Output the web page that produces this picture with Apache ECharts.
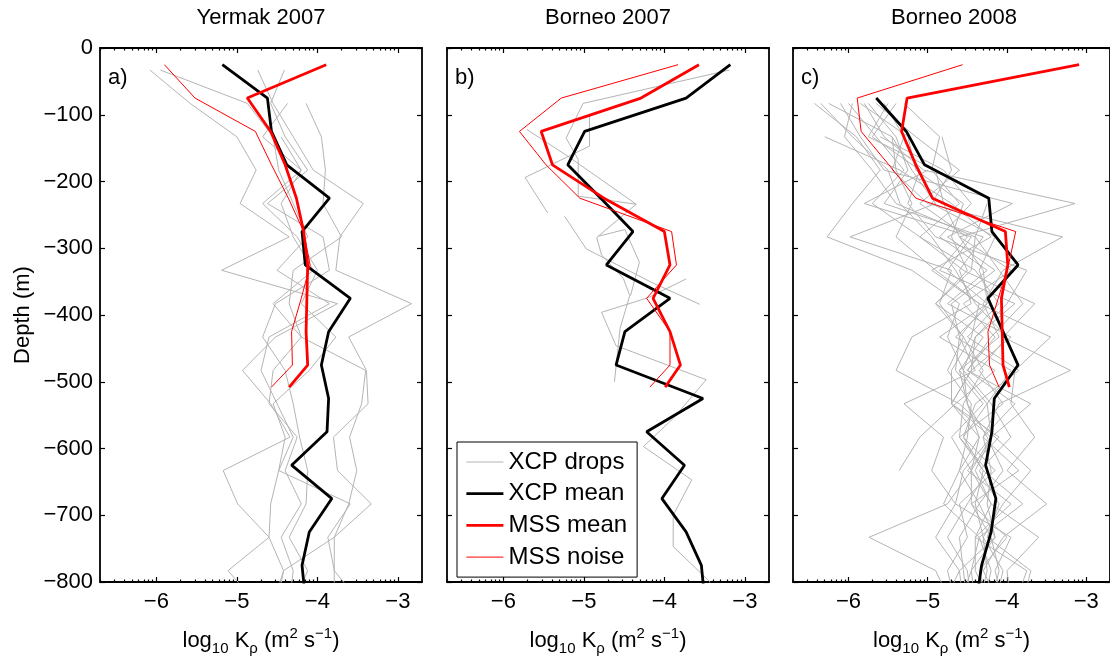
<!DOCTYPE html>
<html>
<head>
<meta charset="utf-8">
<script src="https://cdn.jsdelivr.net/npm/echarts@6/dist/echarts.min.js"></script>
<style>
  html, body { margin: 0; padding: 0; background: #fff; }
  #chart { width: 1110px; height: 661px; }
</style>
</head>
<body>
<div id="chart"></div>
<script>
// ---------------- data ----------------
const panelTitles = ['Yermak 2007', 'Borneo 2007', 'Borneo 2008'];
const panelTags = ['a)', 'b)', 'c)'];
const xTickValues = [-6, -5, -4, -3];
const yTickValues = [0, -100, -200, -300, -400, -500, -600, -700, -800];
const legendNames = ['XCP drops', 'XCP mean', 'MSS mean', 'MSS noise'];

// depth bins (m)
const meanDepths = [-25, -75, -125, -175, -225, -275, -325, -375, -425, -475, -525, -575, -625, -675, -725, -775, -825];
const mssDepths = [-25, -75, -125, -175, -225, -275, -325, -375, -425, -475, -508];
const dropDepths = [-33, -83, -133, -183, -233, -283, -333, -383, -433, -483, -533, -583, -633, -683, -733, -783, -833];

// Yermak 2007
const xcpMeanA = [-5.18, -4.62, -4.57, -4.38, -3.85, -4.19, -4.15, -3.59, -3.86, -3.95, -3.86, -3.88, -4.32, -3.82, -4.10, -4.19, -4.15];
const mssMeanA = [-3.89, -4.87, -4.58, -4.40, -4.26, -4.17, -4.12, -4.13, -4.14, -4.12, -4.35];
const mssNoiseA = [-5.90, -5.52, -4.77, -4.57, -4.36, -4.17, -4.09, -4.20, -4.32, -4.31, -4.57];
const xcpDropsA = [
  [-6.08, -5.58, -5.00, -4.76, -4.96, -4.35, -5.19, -3.75, -4.52, -4.93, -4.58, -4.34, -5.17, -4.99, -4.60, -5.11, -4.75],
  [-5.95, -4.87, -4.55, -4.48, -4.30, -4.12, -4.50, -3.85, -4.60, -4.70, -4.50, -4.30, -4.48, -4.58, -4.60, -4.42, -4.55],
  [-4.74, -4.55, -4.30, -4.05, -3.43, -3.72, -3.77, -2.83, -3.61, -3.39, -3.37, -3.80, -3.75, -3.33, -3.79, -3.79, -3.79],
  [-4.41, -4.58, -4.40, -4.12, -4.62, -3.93, -3.85, -4.52, -4.68, -4.40, -4.30, -4.22, -4.12, -4.14, -4.35, -4.12, -4.30],
  [null, -4.37, -4.68, -4.20, -4.68, -4.25, -4.00, -4.20, -3.77, -4.10, -4.55, -4.40, -4.48, -3.59, -3.87, -3.79, -3.45],
  [null, -4.14, -3.95, -3.90, -3.93, -3.70, -4.30, -4.35, -4.20, -3.40, -3.45, -3.60, -3.51, -3.61, -3.79, -4.42, -4.50],
  [null, null, -4.45, -4.20, -4.45, -4.30, -4.05, -4.55, -4.20, -4.55, -4.60, -4.25, -4.40, -4.20, -4.45, -4.30, -4.35]
];

// Borneo 2007
const xcpMeanB = [-3.18, -3.73, -4.99, -5.20, -4.79, -4.39, -4.72, -3.93, -4.49, -4.60, -3.52, -4.22, -3.75, -4.03, -3.73, -3.54, -3.50];
const mssMeanB = [-3.57, -4.29, -5.53, -5.39, -4.75, -4.00, -3.93, -4.14, -3.93, -3.80, -3.99];
const mssNoiseB = [-3.83, -5.28, -5.80, -5.47, -5.05, -3.91, -3.85, -4.22, -3.93, -3.93, -4.18];
// [log10 K, depth] pairs for each drop
const xcpDropsB = [
  [[-3.19, -33], [-5.01, -83], [-5.22, -135], [-5.07, -167], [-5.07, -222], [-4.35, -234], [-4.84, -284], [-4.78, -310], [-4.51, -345], [-4.43, -371], [-4.55, -420], [-4.62, -500]],
  [[-4.93, -100], [-4.93, -147], [-5.73, -194], [-5.45, -247]],
  [[-5.71, -122], [-5.20, -162], [-4.35, -234]],
  [[-5.24, -252], [-4.97, -301], [-4.16, -351], [-3.56, -384]],
  [[-4.82, -282], [-4.49, -272], [-4.31, -321], [-4.42, -371]],
  [[-3.73, -346], [-4.20, -374], [-4.78, -396], [-4.60, -446], [-3.48, -497], [-3.89, -555], [-4.26, -597], [-3.66, -647], [-3.89, -700], [-3.89, -747], [-3.44, -799], [-3.35, -830]]
];

// Borneo 2008
const xcpMeanC = [null, -5.65, -5.27, -5.04, -4.23, -4.19, -3.86, -4.24, -4.05, -3.86, -4.16, -4.19, -4.27, -4.14, -4.20, -4.32, -4.38];
const mssMeanC = [-3.09, -5.26, -5.33, -5.15, -4.94, -4.02, -3.99, -4.07, -4.06, -4.05, -3.97];
const mssNoiseC = [-4.56, -5.89, -5.84, -5.49, -5.15, -3.89, -3.98, -4.11, -4.24, -4.22, -4.10];
const xcpDropsC = [
  [null, -6.43, -5.90, -5.60, -5.95, -6.27, -5.20, -4.60, -4.75, -4.55, -4.50, -4.35, -4.45, -4.75, -5.74, -4.90, -4.70],
  [null, -6.25, -5.45, -5.20, -4.90, -5.98, -4.70, -4.85, -4.55, -4.75, -4.45, -4.50, -4.60, -4.35, -4.60, -4.55, -4.50],
  [null, -5.95, -6.05, -5.70, -5.40, -4.40, -4.45, -4.90, -4.55, -4.30, -4.55, -4.60, -4.30, -4.40, -4.30, -4.25, -4.35],
  [null, -5.80, -5.55, -5.05, -3.14, -4.60, -4.30, -4.25, -4.60, -4.65, -4.30, -4.70, -4.45, -4.20, -4.40, -4.40, -4.20],
  [null, -5.55, -5.30, -5.45, -5.00, -3.30, -4.05, -4.30, -4.10, -4.60, -4.50, -4.25, -4.05, -4.35, -4.15, -4.45, -4.60],
  [null, -5.40, -5.70, -5.10, -5.25, -4.90, -3.75, -4.00, -4.40, -4.45, -4.70, -4.20, -4.55, -4.65, -3.95, -4.15, -4.05],
  [null, -5.30, -4.85, -4.95, -4.60, -5.10, -4.55, -3.65, -4.05, -3.20, -4.10, -4.30, -4.20, -4.25, -4.15, -4.60, -4.80],
  [null, null, -6.30, -5.35, -4.70, -4.20, -4.95, -4.35, -3.45, -3.90, -3.95, -3.65, -4.00, -3.50, -4.05, -4.30, -4.10],
  [null, -6.10, -5.85, -5.55, -3.93, -4.75, -4.15, -4.70, -4.60, -4.40, -5.30, -4.80, -4.95, -4.65, -4.90, -4.60, -4.55],
  [null, -5.65, -5.15, -4.60, -5.10, -4.50, -4.85, -3.90, -4.40, -4.55, -4.20, -3.95, -4.35, -4.10, -4.25, -3.70, -3.80],
  [null, -5.75, -5.40, -5.25, -5.55, -4.30, -4.60, -4.45, -5.20, -5.40, -4.60, -4.15, -3.70, -4.05, -4.30, -4.05, -4.15],
  [null, null, -5.60, -4.80, -4.45, -4.85, -4.25, -4.75, -3.95, -4.45, -4.70, -4.35, -4.60, -4.80, -4.35, -4.45, -4.40],
  [null, -6.00, -5.65, -5.30, -5.70, -5.10, -4.40, -4.10, -4.50, -3.85, -4.40, -4.55, -4.30, -3.80, -4.35, -4.20, -4.30],
  [null, -5.50, -5.75, -4.90, -4.80, -4.60, -3.95, -4.55, -4.15, -4.50, -3.70, -4.20, -4.45, -4.45, -4.00, -4.35, -4.25],
  [null, null, null, -5.00, -5.80, -4.45, -4.75, -4.25, -4.85, -4.15, -4.65, -5.10, -5.36, null, null, null, null],
  [null, -5.85, -5.25, -5.15, -4.55, -4.70, -4.50, -4.90, -4.30, -4.60, -4.25, -4.55, -4.15, -4.60, -4.50, -4.75, -4.65],
  [null, null, -4.82, -4.70, -4.95, -4.15, -4.35, -4.20, -4.65, -3.95, -4.25, -4.20, -4.40, -4.20, -3.60, -4.00, -3.95],
  [null, -6.35, -5.95, -5.50, -5.35, -4.95, -4.65, -4.40, -4.00, -4.35, -4.05, -4.60, -4.25, -4.50, -4.75, -4.50, -4.45],
  [null, null, null, null, -4.25, -4.40, -4.10, -3.80, -4.20, -4.50, -3.90, -4.30, -3.85, -4.45, -4.20, -4.10, -4.20],
  [null, null, -5.45, -5.40, -5.20, -5.40, -4.90, -4.35, -4.45, -4.70, -4.70, -4.10, -4.50, -3.95, -4.40, -3.75, -3.90]
];

// ---------------- layout & style ----------------
const FONT = 'Liberation Sans, Arial, Helvetica, sans-serif';
const GRID_LEFTS = [100, 447, 793];
const GRID_TOP = 48, GRID_W = 322, GRID_H = 536;
const X_MIN = -6.7, X_MAX = -2.7;
const GRAY = '#b4b4b4', RED = '#ff0000', BLACK = '#000000';
const THIN = 1, THICK = 2.8;

// log-style minor tick positions between the integer decades
const minorTicks = [];
for (let d = -7; d <= -3; d++) {
  for (let k = 2; k <= 9; k++) {
    const v = d + Math.log10(k);
    if (v > X_MIN && v < X_MAX) minorTicks.push(v);
  }
}

const minus = v => String(v).replace('-', '\u2212');

function profile(xs, depths) {
  const out = [];
  xs.forEach((x, i) => { if (x !== null) out.push([x, depths[i]]); });
  return out;
}

const axisLineStyle = { color: BLACK, width: 1.8 };
const tickLine = { color: BLACK, width: 1.2 };

const grids = [], xAxes = [], yAxes = [], series = [];

const panels = [
  { mean: xcpMeanA, mss: mssMeanA, noise: mssNoiseA, drops: xcpDropsA.map(d => profile(d, dropDepths)) },
  { mean: xcpMeanB, mss: mssMeanB, noise: mssNoiseB, drops: xcpDropsB },
  { mean: xcpMeanC, mss: mssMeanC, noise: mssNoiseC, drops: xcpDropsC.map(d => profile(d, dropDepths)) }
];

panels.forEach((p, i) => {
  grids.push({ left: GRID_LEFTS[i], top: GRID_TOP, width: GRID_W, height: GRID_H, containLabel: false });

  const xBase = { type: 'value', gridIndex: i, min: X_MIN, max: X_MAX, splitLine: { show: false } };
  // bottom: line, major ticks, labels, name
  xAxes.push(Object.assign({}, xBase, {
    position: 'bottom',
    axisLine: { show: true, onZero: false, lineStyle: axisLineStyle },
    axisTick: { show: true, inside: true, length: 5, customValues: xTickValues, lineStyle: tickLine },
    axisLabel: { show: true, customValues: xTickValues, formatter: minus, fontSize: 22, fontFamily: FONT, color: BLACK, margin: 9 },
    name: '{t|log}{s|10}{t| K}{s|\u03c1}{t| (m}{p|2}{t| s}{p|\u22121}{t|)}',
    nameLocation: 'middle', nameGap: 44,
    nameTextStyle: {
      color: BLACK, fontFamily: FONT, fontSize: 22,
      rich: {
        t: { fontSize: 22, fontFamily: FONT, color: BLACK, lineHeight: 30, verticalAlign: 'middle' },
        s: { fontSize: 15, fontFamily: FONT, color: BLACK, lineHeight: 14, verticalAlign: 'bottom' },
        p: { fontSize: 15, fontFamily: FONT, color: BLACK, lineHeight: 14, verticalAlign: 'top' }
      }
    }
  }));
  // top: line and major ticks
  xAxes.push(Object.assign({}, xBase, {
    position: 'top',
    axisLine: { show: true, onZero: false, lineStyle: axisLineStyle },
    axisTick: { show: true, inside: true, length: 5, customValues: xTickValues, lineStyle: tickLine },
    axisLabel: { show: false }
  }));
  // minor ticks, bottom and top
  ['bottom', 'top'].forEach(pos => {
    xAxes.push(Object.assign({}, xBase, {
      position: pos,
      axisLine: { show: false, onZero: false },
      axisTick: { show: true, inside: true, length: 2.5, customValues: minorTicks, lineStyle: tickLine },
      axisLabel: { show: false }
    }));
  });

  const yBase = { type: 'value', gridIndex: i, min: -800, max: 0, interval: 100, splitLine: { show: false } };
  yAxes.push(Object.assign({}, yBase, {
    position: 'left',
    axisLine: { show: true, onZero: false, lineStyle: axisLineStyle },
    axisTick: { show: true, inside: true, length: 5, lineStyle: tickLine },
    axisLabel: { show: i === 0, formatter: minus, fontSize: 22, fontFamily: FONT, color: BLACK, margin: 7 },
    name: i === 0 ? 'Depth (m)' : '',
    nameLocation: 'middle', nameGap: 66, nameRotate: 90,
    nameTextStyle: { color: BLACK, fontFamily: FONT, fontSize: 22 }
  }));
  yAxes.push(Object.assign({}, yBase, {
    position: 'right',
    axisLine: { show: true, onZero: false, lineStyle: axisLineStyle },
    axisTick: { show: true, inside: true, length: 5, lineStyle: tickLine },
    axisLabel: { show: false }
  }));

  const xi = i * 4, yi = i * 2;
  const common = { type: 'line', xAxisIndex: xi, yAxisIndex: yi, symbol: 'none', showSymbol: false,
                   silent: true, animation: false, clip: true };
  p.drops.forEach(d => {
    series.push(Object.assign({}, common, { name: 'XCP drops', data: d, lineStyle: { color: GRAY, width: THIN }, itemStyle: { color: GRAY } }));
  });
  series.push(Object.assign({}, common, { name: 'XCP mean', data: profile(p.mean, meanDepths), lineStyle: { color: BLACK, width: THICK }, itemStyle: { color: BLACK } }));
  series.push(Object.assign({}, common, { name: 'MSS noise', data: profile(p.noise, mssDepths), lineStyle: { color: RED, width: THIN }, itemStyle: { color: RED } }));
  series.push(Object.assign({}, common, { name: 'MSS mean', data: profile(p.mss, mssDepths), lineStyle: { color: RED, width: THICK }, itemStyle: { color: RED } }));
});

// titles and panel tags
const graphics = [];
panelTitles.forEach((t, i) => {
  graphics.push({ type: 'text', x: GRID_LEFTS[i] + GRID_W / 2, y: 18,
    style: { text: t, font: '22px ' + FONT, fill: BLACK, textAlign: 'center', textVerticalAlign: 'middle' } });
  graphics.push({ type: 'text', x: GRID_LEFTS[i] + 8, y: 78,
    style: { text: panelTags[i], font: '22px ' + FONT, fill: BLACK, textAlign: 'left', textVerticalAlign: 'middle' } });
});

const legendWidths = { 'XCP drops': THIN, 'XCP mean': THICK, 'MSS mean': THICK, 'MSS noise': THIN };

const chart = echarts.init(document.getElementById('chart'), null, { renderer: 'canvas' });
chart.setOption({
  animation: false,
  backgroundColor: '#fff',
  grid: grids,
  xAxis: xAxes,
  yAxis: yAxes,
  series: series,
  graphic: graphics,
  legend: {
    data: legendNames.map(n => ({ name: n, lineStyle: { width: legendWidths[n] } })),
    orient: 'vertical',
    left: 457, top: 442,
    padding: [8, 10, 8, 8],
    itemWidth: 37, itemHeight: 2, itemGap: 7.7,
    itemStyle: { opacity: 0 },
    selectedMode: false,
    backgroundColor: '#fff',
    borderColor: BLACK, borderWidth: 1, borderRadius: 0,
    textStyle: { fontSize: 24, fontFamily: FONT, color: BLACK, lineHeight: 24 }
  }
});
</script>
</body>
</html>
